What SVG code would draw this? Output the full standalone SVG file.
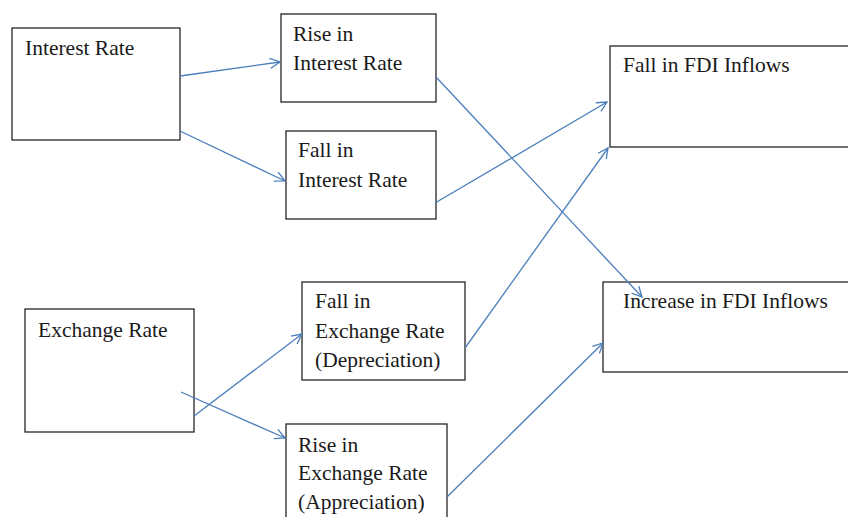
<svg xmlns="http://www.w3.org/2000/svg" width="848" height="517" viewBox="0 0 848 517">
<style>
.box{fill:#fff;stroke:#262626;stroke-width:1.3}
.t{font-family:"Liberation Serif","Times New Roman",serif;font-size:21.5px;fill:#1a1a1a}
.c{stroke:#4a7ebb;stroke-width:1.3;fill:none;marker-end:url(#ah)}
</style>
<defs>
<marker id="ah" viewBox="0 0 12 12" refX="11" refY="6" markerWidth="12" markerHeight="12" markerUnits="userSpaceOnUse" orient="auto">
<path d="M1,1 L11,6 L1,11" fill="none" stroke="#4a7ebb" stroke-width="1.3"/>
</marker>
</defs>
<rect width="848" height="517" fill="#fff"/>
<g id="n-interest"><rect class="box" x="12" y="28" width="168" height="112"/><text class="t" x="25" y="55">Interest Rate</text></g>
<g id="n-rise-ir"><rect class="box" x="281" y="14" width="155" height="88"/><text class="t" x="293" y="41">Rise in</text><text class="t" x="293" y="70">Interest Rate</text></g>
<g id="n-fall-ir"><rect class="box" x="286" y="131" width="150" height="88"/><text class="t" x="298" y="157">Fall in</text><text class="t" x="298" y="187">Interest Rate</text></g>
<g id="n-fall-fdi"><rect class="box" x="610" y="46" width="246" height="101"/><text class="t" x="623" y="72">Fall in FDI Inflows</text></g>
<g id="n-exchange"><rect class="box" x="25" y="309" width="169" height="123"/><text class="t" x="38" y="337">Exchange Rate</text></g>
<g id="n-fall-er"><rect class="box" x="302" y="282" width="163" height="98"/><text class="t" x="315" y="308">Fall in</text><text class="t" x="315" y="338">Exchange Rate</text><text class="t" x="315" y="367">(Depreciation)</text></g>
<g id="n-rise-er"><rect class="box" x="286" y="424" width="161" height="110"/><text class="t" x="298" y="452">Rise in</text><text class="t" x="298" y="480">Exchange Rate</text><text class="t" x="298" y="509">(Appreciation)</text></g>
<g id="n-inc-fdi"><rect class="box" x="603" y="282" width="253" height="90"/><text class="t" x="623" y="308">Increase in FDI Inflows</text></g>
<g id="connectors">
<line class="c" x1="180" y1="76" x2="280" y2="62"/>
<line class="c" x1="180" y1="131" x2="285" y2="181"/>
<line class="c" x1="436" y1="77" x2="642" y2="297"/>
<line class="c" x1="435" y1="203" x2="607" y2="102"/>
<line class="c" x1="465" y1="348" x2="608" y2="148"/>
<line class="c" x1="194" y1="416" x2="302" y2="334"/>
<line class="c" x1="181" y1="392" x2="285" y2="438"/>
<line class="c" x1="447" y1="497" x2="603" y2="343"/>
</g>
</svg>
